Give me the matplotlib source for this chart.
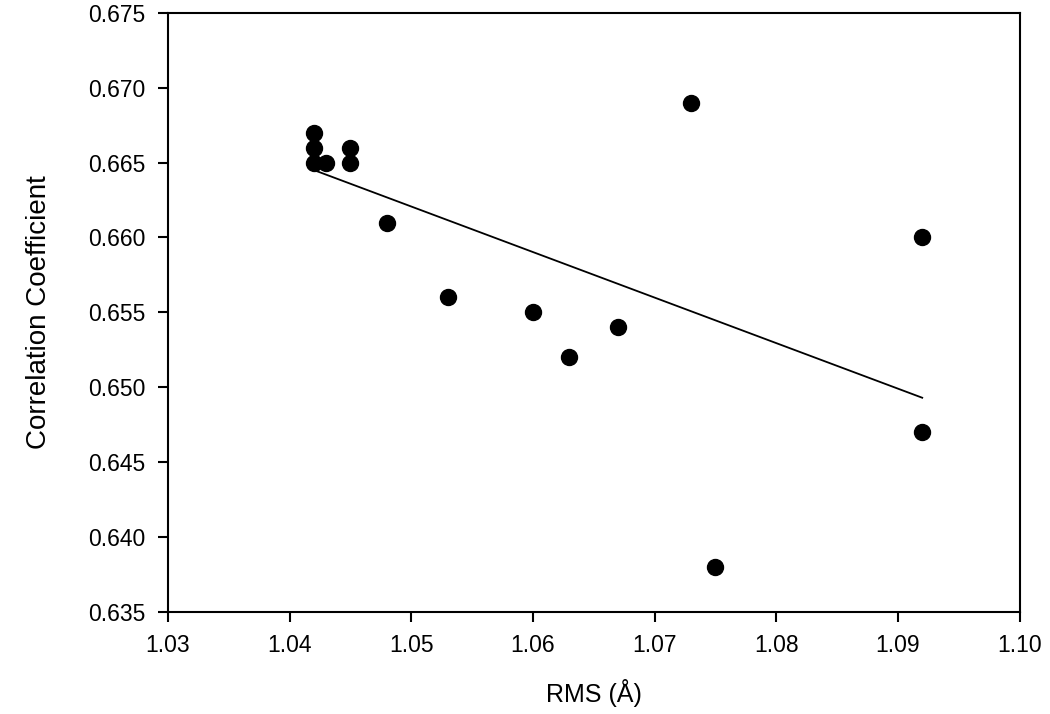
import numpy as np
import matplotlib
matplotlib.use('Agg')
import matplotlib.pyplot as plt

plt.rcParams['font.family'] = ['Liberation Sans', 'DejaVu Sans']

rms = [1.042, 1.042, 1.042, 1.043, 1.045, 1.045, 1.048, 1.053, 1.060,
       1.063, 1.067, 1.073, 1.075, 1.092, 1.092]
corr = [0.667, 0.666, 0.665, 0.665, 0.666, 0.665, 0.661, 0.656, 0.655,
        0.652, 0.654, 0.669, 0.638, 0.660, 0.647]
# trend line end points
trend_x = [1.042, 1.092]
trend_y = [0.6645, 0.6493]
xticks = [1.03, 1.04, 1.05, 1.06, 1.07, 1.08, 1.09, 1.10]
yticks = [0.635, 0.640, 0.645, 0.650, 0.655, 0.660, 0.665, 0.670, 0.675]

fig = plt.figure(figsize=(10.5, 7.14), dpi=100)
ax = fig.add_axes([0.16, 0.143, 0.811, 0.839])
ax.plot(trend_x, trend_y, color='black', lw=1.3)
ax.plot(rms, corr, 'o', color='black', ms=11.5)

ax.set_xlim(1.03, 1.10)
ax.set_ylim(0.635, 0.675)
ax.set_xticks(xticks)
ax.set_xticklabels(['%.2f' % v for v in xticks])
ax.set_yticks(yticks)
ax.set_yticklabels(['%.3f' % v for v in yticks])
ax.tick_params(direction='out', length=7, width=1.5, labelsize=16.5, pad=9)
ax.tick_params(top=False, right=False)
for s in ax.spines.values():
    s.set_linewidth(1.5)

ax.set_xlabel('RMS (Å)', fontsize=18, labelpad=16)
ax.set_ylabel('Correlation Coefficient', fontsize=20, labelpad=26)

fig.savefig('out.png', dpi=100)
